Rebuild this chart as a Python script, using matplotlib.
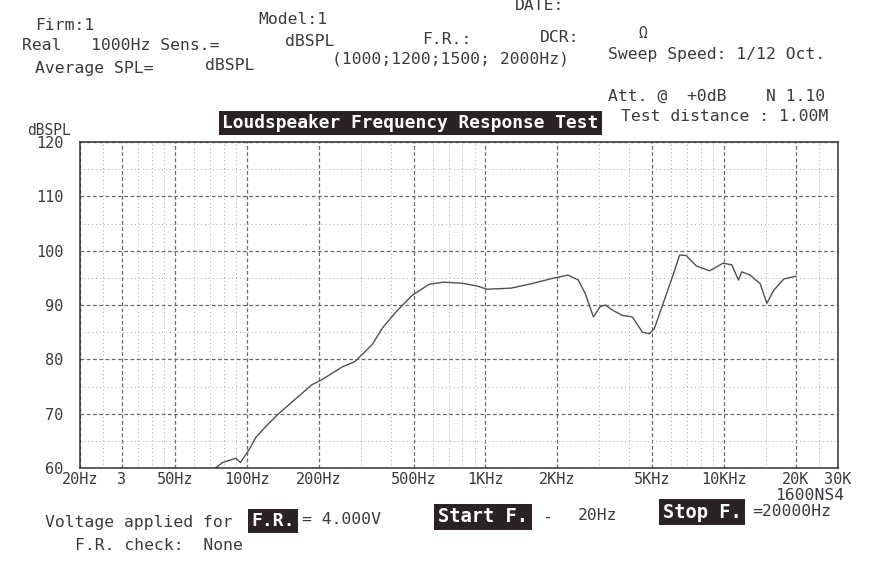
import matplotlib
matplotlib.use("Agg")
import matplotlib.pyplot as plt
from matplotlib.ticker import FixedLocator, NullFormatter

freq = [74, 79, 90, 94, 102, 109, 121, 136, 187, 207, 251, 284, 335, 369, 419,
        494, 580, 665, 800, 921, 1016, 1276, 1552, 1949, 2218, 2447, 2613, 2834,
        3025, 3177, 3394, 3739, 4125, 4546, 4851, 5094, 5535, 6105, 6510, 6940,
        7640, 8700, 9900, 10760, 11480, 11860, 12850, 14170, 15100, 16130,
        17800, 20000]
spl = [60, 61, 61.8, 61, 63.3, 65.6, 67.8, 70, 75.3, 76.3, 78.6, 79.6, 82.7,
       85.7, 88.6, 91.8, 93.8, 94.2, 94.0, 93.5, 92.9, 93.1, 93.9, 95.0, 95.5,
       94.6, 92.2, 87.8, 89.7, 90.0, 89.1, 88.1, 87.8, 85.0, 84.7, 85.6, 90.1,
       95.5, 99.2, 99.1, 97.2, 96.3, 97.7, 97.4, 94.6, 96.1, 95.5, 93.9, 90.3,
       92.7, 94.8, 95.3]

x_ticks = [20, 30, 50, 100, 200, 500, 1000, 2000, 5000, 10000, 20000, 30000]
x_labels = ["20Hz", "3", "50Hz", "100Hz", "200Hz", "500Hz", "1KHz", "2KHz",
            "5KHz", "10KHz", "20K", "30K"]
x_minor = [25, 35, 40, 45, 60, 70, 80, 90, 300, 400, 600, 700, 800, 900,
           3000, 4000, 6000, 7000, 8000, 9000, 15000, 25000]
y_ticks = [60, 70, 80, 90, 100, 110, 120]
y_minor = [65, 75, 85, 95, 105, 115]

W, H = 880, 564
mono = "DejaVu Sans Mono"
ink = "#3a3a40"

fig = plt.figure(figsize=(8.8, 5.64), dpi=100)
fig.patch.set_facecolor("white")


def px(x, y):
    return x / W, 1 - y / H


def label(x, y, s, size=11.8, **kw):
    kw.setdefault("color", ink)
    fig.text(*px(x, y), s, fontsize=size, family=mono, va="center", **kw)


def boxed(x, y, s, size=12.6):
    fig.text(*px(x, y), s, fontsize=size, family=mono, weight="bold",
             color="white", va="center",
             bbox=dict(facecolor="#2a2226", edgecolor="none", pad=2.5))


ax = fig.add_axes([80 / W, 1 - 468 / H, 758 / W, 326 / H])
ax.plot(freq, spl, color="#505058", lw=1.0)
ax.set_xscale("log")
ax.set_xlim(20, 30000)
ax.set_ylim(60, 120)

ax.xaxis.set_major_locator(FixedLocator(x_ticks))
ax.set_xticklabels(x_labels)
ax.xaxis.set_minor_locator(FixedLocator(x_minor))
ax.xaxis.set_minor_formatter(NullFormatter())
ax.set_yticks(y_ticks)
ax.yaxis.set_minor_locator(FixedLocator(y_minor))

ax.grid(which="major", ls=(0, (3, 2)), color="#6a6a70", lw=0.9)
ax.grid(which="minor", ls=(0, (1, 3)), color="#a8a8ae", lw=0.7)
ax.tick_params(which="both", length=0)
ax.tick_params(axis="x", pad=3, labelsize=11, labelcolor=ink)
ax.tick_params(axis="y", pad=12, labelsize=11, labelcolor=ink)
for lab in ax.get_xticklabels() + ax.get_yticklabels():
    lab.set_family(mono)
for sp in ax.spines.values():
    sp.set_color("#333338")
    sp.set_linewidth(1.1)

# header
label(515, 6, "DATE:")
label(35, 26, "Firm:1")
label(258, 20, "Model:1")
label(22, 45, "Real   1000Hz Sens.=")
label(285, 42, "dBSPL")
label(422, 39, "F.R.:")
label(540, 37, "DCR:")
label(638, 33, "\u03a9", size=10.5)
label(35, 68, "Average SPL=")
label(205, 65, "dBSPL")
label(332, 59, "(1000;1200;1500; 2000Hz)")
label(608, 54, "Sweep Speed: 1/12 Oct.")
label(608, 96, "Att. @  +0dB    N 1.10")
label(621, 117, "Test distance : 1.00M")
label(27, 130, "dBSPL", size=10.5)
boxed(222, 123, "Loudspeaker Frequency Response Test", size=12.9)

# footer
label(775, 495, "1600NS4")
label(45, 523, "Voltage applied for")
boxed(251, 521, "F.R.", size=13)
label(302, 520, "= 4.000V")
boxed(438, 517, "Start F.", size=13.5)
label(542, 517, "-")
label(578, 515, "20Hz")
boxed(663, 512, "Stop F.", size=13.5)
label(752, 511, "=20000Hz")
label(75, 545, "F.R. check:  None")

fig.savefig("out.png", dpi=100)
